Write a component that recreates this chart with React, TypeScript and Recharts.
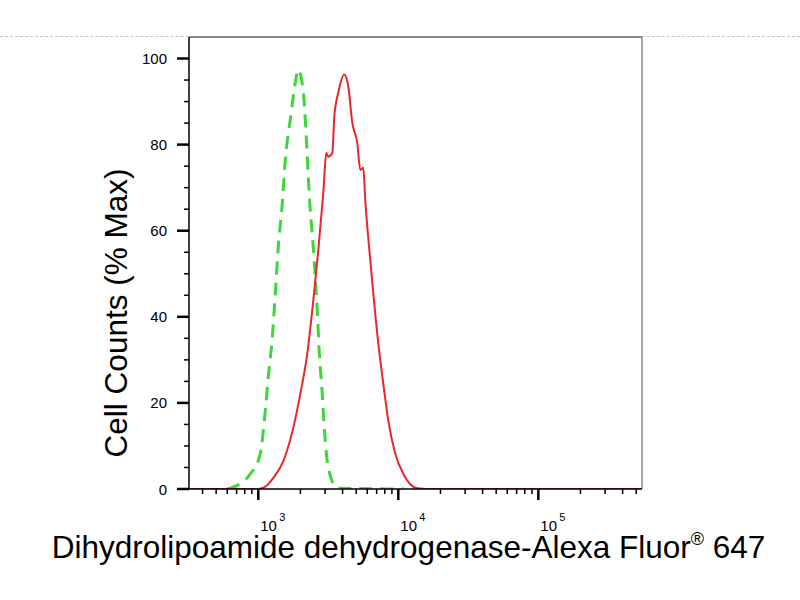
import React from 'react';
import { LineChart, Line, XAxis, YAxis, ReferenceLine, Label } from 'recharts';

// Isotype control (green dashed)
const isotypeIntensity = [600, 631, 877, 1033, 1122, 1178, 1259, 1323, 1389, 1484, 1559, 1693, 1837, 1931, 2096, 2202, 2275, 2351, 2471, 2553, 2638, 2728, 2864, 2960, 3162, 3664, 11000];
const isotypeCounts = [0, 0.2, 3.5, 8.2, 18.2, 25.9, 35.2, 45.5, 56.2, 66.4, 76.5, 85.8, 94.4, 97.4, 92.1, 81.8, 72.5, 64.8, 56.2, 49.2, 41.5, 31.5, 22.1, 14.2, 4.9, 0.2, 0];

// Antibody stained (red solid)
const stainedIntensity = [320, 1000, 1150, 1280, 1509, 1778, 1995, 2239, 2471, 2683, 2912, 3060, 3162, 3378, 3490, 3728, 4113, 4395, 4691, 5093, 5354, 5623, 5808, 6310, 6627, 7197, 7810, 8483, 9520, 10860, 13670, 17780, 550000];
const stainedCounts = [0, 0, 0.8, 2.6, 6.5, 14.2, 22.1, 31.5, 43.8, 55.5, 68.8, 78.1, 77.2, 78.1, 86.5, 92.1, 96.3, 93.5, 85.1, 80.4, 74.1, 74.6, 67.1, 53.1, 45.5, 33.8, 24.5, 15.9, 8.2, 3.5, 0.2, 0, 0];

const xTicks = [400, 500, 600, 700, 800, 900, 1000, 2000, 3000, 4000, 5000, 6000, 7000, 8000, 9000, 10000, 20000, 30000, 40000, 50000, 60000, 70000, 80000, 90000, 100000, 200000, 300000, 400000, 500000];
const yTicks = [0, 5, 10, 15, 20, 25, 30, 35, 40, 45, 50, 55, 60, 65, 70, 75, 80, 85, 90, 95, 100];
const xDomain = [320, 550000];
const yDomain = [0, 105];

const xTitle = 'Dihydrolipoamide dehydrogenase-Alexa Fluor';
const yTitle = 'Cell Counts (% Max)';

const isotypeData = isotypeIntensity.map((x, i) => ({ x, y: isotypeCounts[i] }));
const stainedData = stainedIntensity.map((x, i) => ({ x, y: stainedCounts[i] }));

const FONT = '"Liberation Sans", Arial, sans-serif';

const XTick = (props: any) => {
  const { x, y, payload } = props;
  const v = payload.value as number;
  const lg = Math.log10(v);
  const exp = Math.round(lg);
  const major = Math.abs(lg - exp) < 1e-6;
  return (
    <g>
      <line x1={x} x2={x} y1={y} y2={y + (major ? 11 : 5)} stroke="#000" strokeWidth={major ? 2.5 : 1.5} />
      {major && (
        <text x={x + 2} y={y + 42} fontSize={15} fontFamily={FONT} fill="#000" textAnchor="start">
          10
        </text>
      )}
      {major && (
        <text x={x + 21} y={y + 32} fontSize={11} fontFamily={FONT} fill="#000" textAnchor="start">
          {exp}
        </text>
      )}
    </g>
  );
};

const YTick = (props: any) => {
  const { x, y, payload } = props;
  const v = payload.value as number;
  const major = v % 20 === 0;
  return (
    <g>
      <line x1={x - (major ? 12 : 5)} x2={x} y1={y} y2={y} stroke="#000" strokeWidth={major ? 2.5 : 1.5} />
      {major && (
        <text x={x - 22} y={y} fontSize={15} fontFamily={FONT} fill="#000" textAnchor="end" dominantBaseline="central">
          {v}
        </text>
      )}
    </g>
  );
};

const YTitle = (props: any) => {
  const vb = props.viewBox || { x: 129, y: 37, width: 60, height: 452 };
  const cx = vb.x + vb.width - 62;
  const cy = vb.y + vb.height / 2 + 50;
  return (
    <text x={cx} y={cy} transform={`rotate(-90, ${cx}, ${cy})`} textAnchor="middle" fontSize={31.5} fontFamily={FONT} fill="#000">
      {yTitle}
    </text>
  );
};

const XTitle = (props: any) => {
  const vb = props.viewBox || { x: 189, y: 489, width: 452, height: 60 };
  const cx = vb.x + vb.width / 2 - 7;
  const cy = vb.y + 69;
  return (
    <text x={cx} y={cy} textAnchor="middle" fontSize={31.5} fontFamily={FONT} fill="#000">
      {xTitle}
      <tspan fontSize={18} dy={-13}>®</tspan>
      <tspan dy={13}> 647</tspan>
    </text>
  );
};

export default function App() {
  return (
    <div style={{ position: 'absolute', left: 0, top: 0, width: 800, height: 600, background: '#fff' }}>
      <div style={{ position: 'absolute', left: 0, top: 36, width: 800, borderTop: '1px dashed #c4c4c4' }} />
      <LineChart width={800} height={600} margin={{ top: 37, right: 158, bottom: 51, left: 129 }}>
        <XAxis
          dataKey="x"
          type="number"
          scale="log"
          domain={xDomain}
          ticks={xTicks}
          allowDataOverflow
          height={60}
          tickSize={0}
          tickMargin={0}
          tickLine={false}
          tick={<XTick />}
          interval={0}
          stroke="#000"
          strokeWidth={1.5}
        >
          <Label content={<XTitle />} />
        </XAxis>
        <YAxis
          type="number"
          domain={yDomain}
          ticks={yTicks}
          allowDataOverflow
          width={60}
          tickSize={0}
          tickMargin={0}
          tickLine={false}
          tick={<YTick />}
          interval={0}
          stroke="#000"
          strokeWidth={1.5}
        >
          <Label content={<YTitle />} />
        </YAxis>
        <ReferenceLine y={105} stroke="#8a8a8a" strokeWidth={2} />
        <ReferenceLine x={550000} stroke="#8a8a8a" strokeWidth={1.5} />
        <Line
          data={isotypeData}
          dataKey="y"
          type="monotone"
          stroke="#3ed63e"
          strokeWidth={3}
          strokeDasharray="13 8"
          dot={false}
          isAnimationActive={false}
        />
        <Line
          data={stainedData}
          dataKey="y"
          type="monotone"
          stroke="#e8262a"
          strokeWidth={2}
          dot={false}
          isAnimationActive={false}
        />
      </LineChart>
    </div>
  );
}
